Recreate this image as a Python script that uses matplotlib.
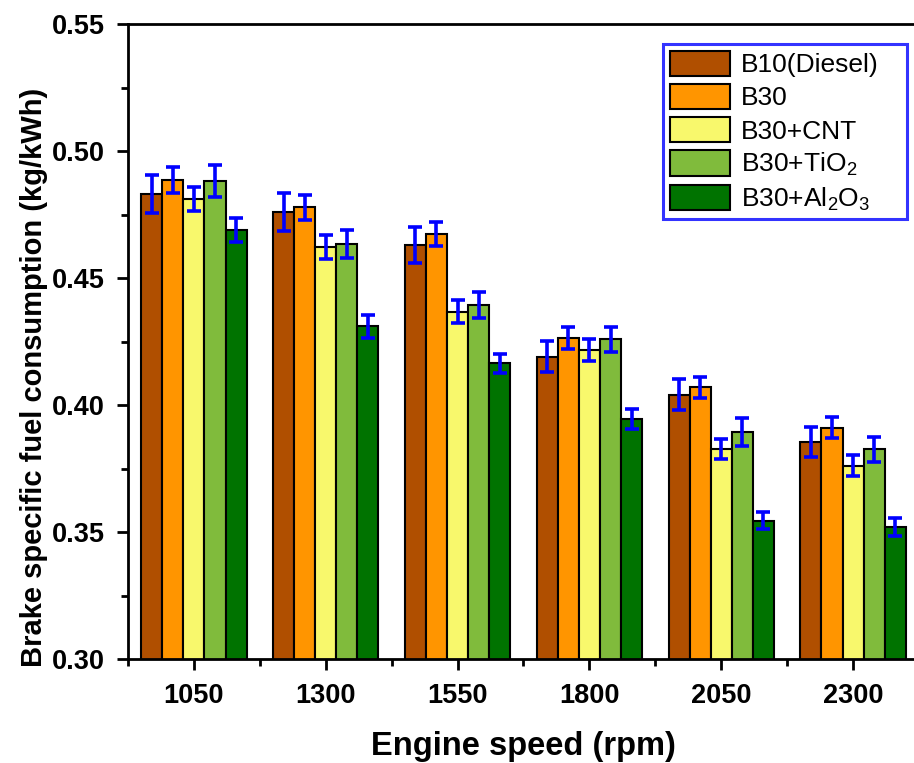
import numpy as np
import matplotlib
matplotlib.use('Agg')
import matplotlib.pyplot as plt
from matplotlib.ticker import MultipleLocator, FixedLocator

plt.rcParams['font.family'] = ['Liberation Sans', 'DejaVu Sans']
plt.rcParams['mathtext.default'] = 'regular'

speeds = ['1050', '1300', '1550', '1800', '2050', '2300']
fuels = ['B10(Diesel)', 'B30', 'B30+CNT', 'B30+TiO$_2$', 'B30+Al$_2$O$_3$']

b10 = [0.4831, 0.4759, 0.4630, 0.4190, 0.4041, 0.3853]
b30 = [0.4886, 0.4778, 0.4674, 0.4265, 0.4070, 0.3911]
b30_cnt = [0.4811, 0.4621, 0.4367, 0.4217, 0.3827, 0.3761]
b30_tio2 = [0.4881, 0.4635, 0.4394, 0.4259, 0.3895, 0.3826]
b30_al2o3 = [0.4689, 0.4310, 0.4164, 0.3946, 0.3545, 0.3521]

err_b10 = [0.0075, 0.0074, 0.0070, 0.0062, 0.0062, 0.0059]
err_b30 = [0.0050, 0.0049, 0.0048, 0.0044, 0.0041, 0.0040]
err_cnt = [0.0049, 0.0048, 0.0045, 0.0043, 0.0039, 0.0042]
err_tio2 = [0.0063, 0.0055, 0.0051, 0.0050, 0.0055, 0.0049]
err_al2o3 = [0.0047, 0.0046, 0.0038, 0.0040, 0.0035, 0.0036]

colors = ['#B04F00', '#FF9500', '#F8F86C', '#80BB3C', '#007300']

series = [b10, b30, b30_cnt, b30_tio2, b30_al2o3]
errors = [err_b10, err_b30, err_cnt, err_tio2, err_al2o3]

fig = plt.figure(figsize=(9.14, 7.63), dpi=100)
ax = fig.add_axes([128 / 914, 104 / 763, 791 / 914, 635 / 763])

x = np.arange(len(speeds))
w = 0.16
for i, (vals, errs) in enumerate(zip(series, errors)):
    ax.bar(x + (i - 2) * w, vals, w, color=colors[i], edgecolor='black',
           linewidth=1.5, label=fuels[i], zorder=2)
    ax.errorbar(x + (i - 2) * w, vals, yerr=errs, fmt='none', ecolor='blue',
                elinewidth=2.6, capsize=5, capthick=2.6, zorder=3)

ax.set_xlim(-0.5, 5.5)
ax.set_ylim(0.30, 0.55)
ax.set_xticks(x)
ax.set_xticklabels(speeds)
ax.xaxis.set_minor_locator(FixedLocator(np.arange(-0.5, 6, 1)))
ax.yaxis.set_major_locator(MultipleLocator(0.05))
ax.yaxis.set_minor_locator(MultipleLocator(0.025))
ax.yaxis.set_major_formatter(matplotlib.ticker.FormatStrFormatter('%.2f'))

for s in ax.spines.values():
    s.set_linewidth(2)
ax.tick_params(which='major', direction='out', length=8, width=2,
               labelsize=19.5, pad=9)
ax.tick_params(which='minor', direction='out', length=5, width=2)
for lab in ax.get_xticklabels() + ax.get_yticklabels():
    lab.set_fontweight('bold')

ax.set_xlabel('Engine speed (rpm)', fontsize=23.5, fontweight='bold', labelpad=16)
ax.set_ylabel('Brake specific fuel consumption (kg/kWh)', fontsize=21,
              fontweight='bold')
ax.yaxis.set_label_coords(-0.101, 0.444)

leg = ax.legend(loc='upper left',
                bbox_to_anchor=(663 / 914, 1 - 218 / 763, 244 / 914, 174 / 763),
                bbox_transform=fig.transFigure, mode='expand', fontsize=19,
                frameon=True, fancybox=False, borderaxespad=0,
                handlelength=2.3, handleheight=1.1, handletextpad=0.4,
                labelspacing=0.25, borderpad=0.25)
leg.get_frame().set_edgecolor('blue')
leg.get_frame().set_linewidth(2.2)
for p in leg.get_patches():
    p.set_linewidth(1.5)

fig.savefig('out.png', dpi=100)
